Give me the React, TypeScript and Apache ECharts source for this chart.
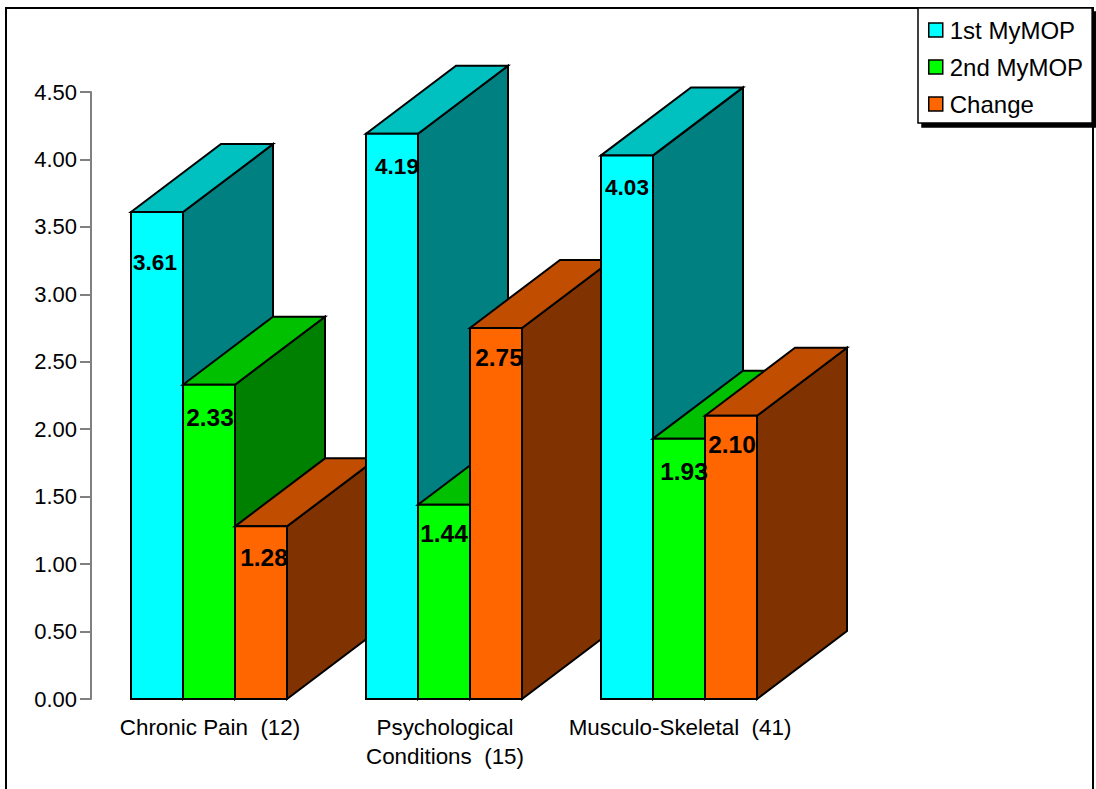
import React, { useEffect, useRef } from "react";
import * as echarts from "echarts";

const categories = ["Chronic Pain  (12)", "Psychological\nConditions  (15)", "Musculo-Skeletal  (41)"];
const firstMyMOP = [3.61, 4.19, 4.03];
const secondMyMOP = [2.33, 1.44, 1.93];
const change = [1.28, 2.75, 2.1];
const seriesNames = ["1st MyMOP", "2nd MyMOP", "Change"];
const valueTicks = { min: 0, max: 4.5, step: 0.5 };

// front, top and side shades of each prism
const frontColors = ["#00FFFF", "#00FF00", "#FF6600"];
const topColors = ["#00C0C0", "#00C000", "#C04D00"];
const sideColors = ["#008080", "#008000", "#803300"];

// hand placement of the value labels relative to each prism's front face
const labelNudgeX = [
  [24, 27, 29],
  [31, 26, 29],
  [26, 31, 27],
];
const labelNudgeY = [
  [50, 33, 31],
  [33, 29, 29],
  [32, 33, 29],
];
const labelSizes = [22.5, 24.5, 24.5];

const FONT = '"Liberation Sans", Arial, sans-serif';
const DEPTH_X = 90;
const DEPTH_Y = -68;
const BAR_RATIO = 52 / 235;
const BAR_SHIFT = 0.5;
const OUTLINE = { stroke: "#000", lineWidth: 2 };

function prismSeries(name: string, values: number[], s: number) {
  return {
    type: "custom" as const,
    name,
    silent: true,
    itemStyle: { color: frontColors[s] },
    encode: { x: 0, y: 1 },
    data: values.map((v, i) => [i, v]),
    renderItem: (_params: any, api: any) => {
      const cat = api.value(0) as number;
      const value = api.value(1) as number;
      const [cx, top] = api.coord([cat, value]);
      const [, bottom] = api.coord([cat, 0]);
      const barW = api.size([1, 0])[0] * BAR_RATIO;
      const left = cx + (s - 1.5) * barW + BAR_SHIFT;
      const right = left + barW;
      const order = cat * 10 + s;
      return {
        type: "group",
        children: [
          {
            type: "polygon",
            z2: order,
            shape: {
              points: [
                [right, top],
                [right + DEPTH_X, top + DEPTH_Y],
                [right + DEPTH_X, bottom + DEPTH_Y],
                [right, bottom],
              ],
            },
            style: { fill: sideColors[s], ...OUTLINE },
          },
          {
            type: "polygon",
            z2: order,
            shape: {
              points: [
                [left, top],
                [left + DEPTH_X, top + DEPTH_Y],
                [right + DEPTH_X, top + DEPTH_Y],
                [right, top],
              ],
            },
            style: { fill: topColors[s], ...OUTLINE },
          },
          {
            type: "polygon",
            z2: order,
            shape: {
              points: [
                [left, top],
                [right, top],
                [right, bottom],
                [left, bottom],
              ],
            },
            style: { fill: frontColors[s], ...OUTLINE },
          },
          {
            type: "text",
            z2: 1000,
            x: left + labelNudgeX[cat][s],
            y: top + labelNudgeY[cat][s],
            style: {
              text: value.toFixed(2),
              fill: "#000",
              font: `bold ${labelSizes[s]}px ${FONT}`,
              align: "center",
              verticalAlign: "middle",
            },
          },
        ],
      };
    },
  };
}

export default function App() {
  const ref = useRef<HTMLDivElement>(null);

  useEffect(() => {
    document.body.style.margin = "0";
    document.body.style.background = "#fff";
    const chart = echarts.init(ref.current!, undefined, { renderer: "svg" });
    chart.setOption({
      animation: false,
      backgroundColor: "#fff",
      textStyle: { fontFamily: FONT },
      grid: { left: 91, top: 92, width: 705, height: 607, containLabel: false },
      xAxis: {
        type: "category",
        data: categories,
        axisLine: { show: false },
        axisTick: { show: false },
        axisLabel: {
          interval: 0,
          margin: 14,
          color: "#000",
          fontFamily: FONT,
          fontSize: 22.4,
          lineHeight: 29,
          hideOverlap: false,
          padding: [0, 0, 0, 3],
        },
      },
      yAxis: {
        type: "value",
        min: valueTicks.min,
        max: valueTicks.max,
        interval: valueTicks.step,
        splitLine: { show: false },
        axisLine: { show: true, lineStyle: { color: "#808080", width: 2 } },
        axisTick: { show: true, length: 11, lineStyle: { color: "#808080", width: 2 } },
        axisLabel: {
          margin: 14,
          color: "#000",
          fontFamily: FONT,
          fontSize: 22,
          padding: [2, 0, 0, 0],
          formatter: (v: number) => v.toFixed(2),
        },
      },
      legend: {
        left: 918,
        top: 8,
        orient: "vertical",
        selectedMode: false,
        backgroundColor: "#fff",
        borderColor: "#000",
        borderWidth: 1.5,
        shadowColor: "#000",
        shadowBlur: 0,
        shadowOffsetX: 4,
        shadowOffsetY: 4,
        padding: [10, 9, 7, 10],
        itemWidth: 14,
        itemHeight: 14,
        itemGap: 13,
        icon: "rect",
        textStyle: { color: "#000", fontFamily: FONT, fontSize: 24, padding: [0, 0, 0, 2] },
        data: seriesNames.map((name, s) => ({
          name,
          itemStyle: { color: frontColors[s], borderColor: "#000", borderWidth: 1.5 },
        })),
      },
      graphic: [
        {
          type: "rect",
          z: -1,
          silent: true,
          shape: { x: 6, y: 8, width: 1087, height: 800 },
          style: { fill: "none", stroke: "#000", lineWidth: 2 },
        },
      ],
      series: [
        prismSeries(seriesNames[0], firstMyMOP, 0),
        prismSeries(seriesNames[1], secondMyMOP, 1),
        prismSeries(seriesNames[2], change, 2),
      ],
    });
    return () => chart.dispose();
  }, []);

  return <div ref={ref} style={{ position: "absolute", left: 0, top: 0, width: 1096, height: 789 }} />;
}
